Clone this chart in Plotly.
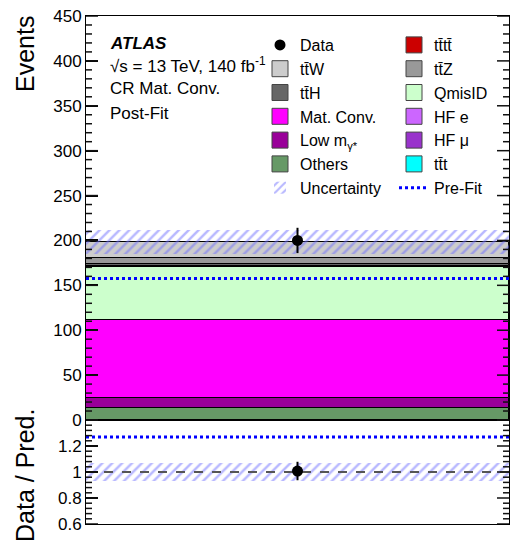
import plotly.graph_objects as go

# ---------------- data ----------------
bin_edges = [0.0, 1.0]
bin_center = [0.5]

# stacked post-fit backgrounds, bottom -> top
samples = ["Others", "Low m<sub>γ*</sub>", "Mat. Conv.", "QmisID", "HF e", "HF μ",
           "tt̄t", "tt̄tt̄", "tt̄H", "tt̄Z", "tt̄W"]
sample_values = [13.0, 11.5, 86.5, 59.5, 0.2, 0.1, 0.1, 0.1, 3.0, 7.0, 17.5]
sample_colors = ["#669966", "#990099", "#ff00ff", "#ccffcc", "#cc66ff", "#9933cc",
                 "#00ffff", "#cc0000", "#666666", "#999999", "#cccccc"]

total_unc = 13.5
data_values = [200.0]
data_errors = [14.1]
prefit_total = 157.6

# axis tick values
main_major_ticks = list(range(0, 451, 50))
main_minor_ticks = list(range(0, 451, 10))
ratio_major_ticks = [0.6, 0.8, 1.0, 1.2, 1.4]
ratio_minor_ticks = [round(0.6 + 0.04 * i, 2) for i in range(21)]
ratio_tick_labels = ["0.6", "0.8", "1", "1.2"]

# legend columns
legend_col1 = ["Data", "tt̄W", "tt̄H", "Mat. Conv.", "Low m<sub>γ*</sub>", "Others", "Uncertainty"]
legend_col2 = ["tt̄tt̄", "tt̄Z", "QmisID", "HF e", "HF μ", "tt̄t", "Pre-Fit"]

FONT = "Liberation Sans, Arial, Helvetica, sans-serif"
HATCH = "#6f6fff"


def legend_of(name):
    if name in legend_col1:
        return "legend", legend_col1.index(name) + 1
    return "legend2", legend_col2.index(name) + 1


fig = go.Figure()

# stacked bars (overlay with explicit bases)
base = 0.0
for name, val, col in zip(samples, sample_values, sample_colors):
    fig.add_trace(go.Bar(x=bin_center, y=[val], base=[base], width=[1.0],
                         marker=dict(color=col, line=dict(color="black", width=1)),
                         showlegend=False, xaxis="x", yaxis="y", hoverinfo="skip"))
    base += val
total_pred = base

# legend proxies with larger square swatches
for name, col in zip(samples, sample_colors):
    lg, rank = legend_of(name)
    fig.add_trace(go.Scatter(x=[None], y=[None], mode="markers", name=name,
                             marker=dict(symbol="square", size=16, color=col,
                                         line=dict(color="#444444", width=1)),
                             legend=lg, legendrank=rank, xaxis="x", yaxis="y"))

hatch = dict(shape="/", fgcolor=HATCH, bgcolor="rgba(0,0,0,0)",
             fillmode="overlay", size=7, solidity=0.35)

# uncertainty band (main)
lg, rank = legend_of("Uncertainty")
fig.add_trace(go.Bar(x=bin_center, y=[2 * total_unc], base=[total_pred - total_unc], width=[1.0],
                     marker=dict(color="rgba(0,0,0,0)", line=dict(width=0), pattern=hatch),
                     name="Uncertainty", legend=lg, legendrank=rank,
                     xaxis="x", yaxis="y", hoverinfo="skip"))

# pre-fit line (main)
lg, rank = legend_of("Pre-Fit")
fig.add_trace(go.Scatter(x=bin_edges, y=[prefit_total, prefit_total], mode="lines",
                         line=dict(color="#0000ff", width=3, dash="dot"),
                         name="Pre-Fit", legend=lg, legendrank=rank,
                         xaxis="x", yaxis="y"))

# data (main)
lg, rank = legend_of("Data")
fig.add_trace(go.Scatter(x=bin_center, y=data_values, mode="markers", name="Data",
                         marker=dict(color="black", size=11, symbol="circle"),
                         error_y=dict(type="data", array=data_errors, color="black",
                                      thickness=2, width=0),
                         legend=lg, legendrank=rank, xaxis="x", yaxis="y"))

# ---------------- ratio panel ----------------
rel_unc = total_unc / total_pred
fig.add_trace(go.Bar(x=bin_center, y=[2 * rel_unc], base=[1 - rel_unc], width=[1.0],
                     marker=dict(color="rgba(0,0,0,0)", line=dict(width=0), pattern=hatch),
                     showlegend=False, xaxis="x2", yaxis="y2", hoverinfo="skip"))
fig.add_trace(go.Scatter(x=bin_edges, y=[1, 1], mode="lines",
                         line=dict(color="#555555", width=2, dash="dash"),
                         showlegend=False, xaxis="x2", yaxis="y2"))
ratio_prefit = data_values[0] / prefit_total
fig.add_trace(go.Scatter(x=bin_edges, y=[ratio_prefit, ratio_prefit], mode="lines",
                         line=dict(color="#0000ff", width=3, dash="dot"),
                         showlegend=False, xaxis="x2", yaxis="y2"))
fig.add_trace(go.Scatter(x=bin_center, y=[data_values[0] / total_pred], mode="markers",
                         marker=dict(color="black", size=11),
                         error_y=dict(type="data", array=[data_errors[0] / total_pred],
                                      color="black", thickness=2, width=0),
                         showlegend=False, xaxis="x2", yaxis="y2"))

split = 104 / 508

axis_common = dict(showline=True, linecolor="black", linewidth=1, mirror=True,
                   ticks="inside", tickcolor="black", ticklen=12, tickwidth=1.5,
                   tickfont=dict(family=FONT, size=17, color="black"),
                   showgrid=False, zeroline=False)


def px_x(px):
    return (px - 86) / 423


def px_y(py):
    return (524 - py) / 508


legend_common = dict(orientation="v", xanchor="left", yanchor="top", yref="paper",
                     itemwidth=30, itemsizing="trace", bgcolor="rgba(0,0,0,0)",
                     font=dict(family=FONT, size=16, color="black"),
                     traceorder="normal", tracegroupgap=0)

fig.update_layout(
    width=510, height=542,
    margin=dict(l=86, r=1, t=16, b=18),
    paper_bgcolor="white", plot_bgcolor="white",
    barmode="overlay", bargap=0,
    font=dict(family=FONT, color="black"),
    xaxis=dict(domain=[0, 1], range=[0, 1], anchor="y", showticklabels=False,
               showline=True, linecolor="black", mirror=True, ticks="", showgrid=False,
               zeroline=False),
    xaxis2=dict(domain=[0, 1], range=[0, 1], anchor="y2", showticklabels=False,
                showline=True, linecolor="black", mirror=True, ticks="", showgrid=False,
                zeroline=False),
    yaxis=dict(domain=[split, 1], anchor="x", range=[0, 450],
               tickmode="array", tickvals=main_major_ticks, **axis_common),
    yaxis2=dict(domain=[0, split], anchor="x2", range=[0.6, 1.4],
                tickmode="array", tickvals=ratio_major_ticks[:4], ticktext=ratio_tick_labels,
                **axis_common),
    legend=dict(x=px_x(260), y=px_y(28), **legend_common),
    legend2=dict(x=px_x(394), y=px_y(28), **legend_common),
    showlegend=True,
)

# tick marks on both sides (drawn via the axis scales, lengths in domain fraction)
PLOT_W = 423.0
tick_shapes = []
for xref, yref, majors, minors in [("x domain", "y", main_major_ticks, main_minor_ticks),
                                   ("x2 domain", "y2", ratio_major_ticks, ratio_minor_ticks)]:
    for v in minors:
        L = (12 if v in majors else 6) / PLOT_W
        for x0, x1 in [(0, L), (1 - L, 1)]:
            tick_shapes.append(dict(type="line", xref=xref, yref=yref, x0=x0, x1=x1,
                                    y0=v, y1=v, layer="above",
                                    line=dict(color="#111111", width=1.5)))
fig.update_layout(shapes=tick_shapes)

texts = [
    ("<b><i>ATLAS</i></b>", 108, 43),
    ("√s = 13 TeV, 140 fb<sup>-1</sup>", 108, 65),
    ("CR Mat. Conv.", 108, 89),
    ("Post-Fit", 108, 113),
]
for t, x, y in texts:
    fig.add_annotation(text=t, x=px_x(x), y=px_y(y), xref="paper", yref="paper",
                       xanchor="left", yanchor="middle", showarrow=False,
                       font=dict(family=FONT, size=17, color="black"))

fig.add_annotation(text="Events", x=px_x(25), y=px_y(54), xref="paper", yref="paper",
                   textangle=-90, xanchor="center", yanchor="middle", showarrow=False,
                   font=dict(family=FONT, size=25, color="black"))
fig.add_annotation(text="Data / Pred.", x=px_x(25), y=px_y(475), xref="paper", yref="paper",
                   textangle=-90, xanchor="center", yanchor="middle", showarrow=False,
                   font=dict(family=FONT, size=25, color="black"))

fig.write_html("out.html")
